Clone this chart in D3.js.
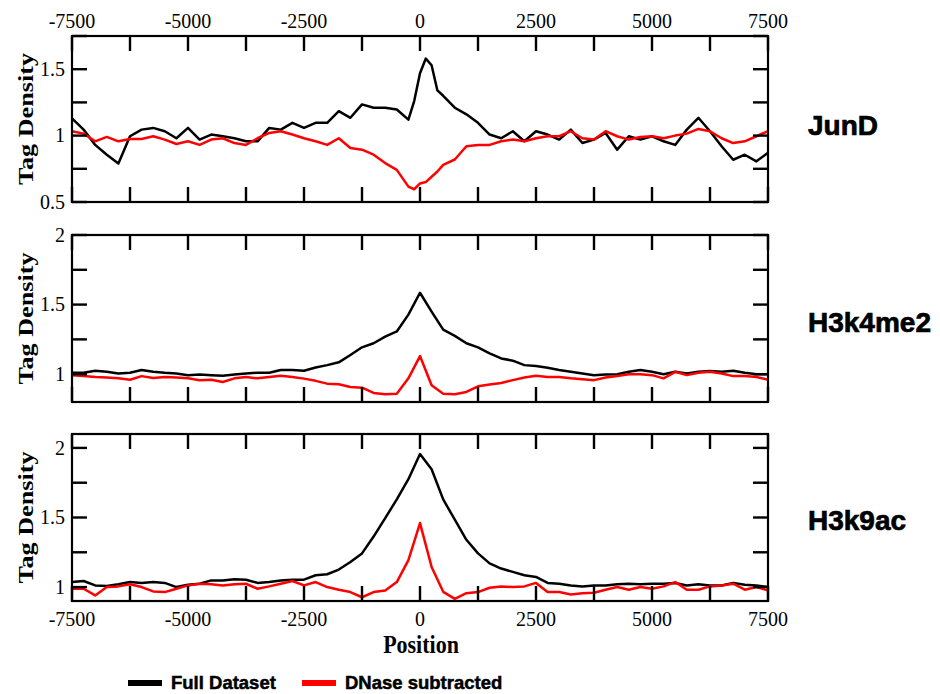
<!DOCTYPE html>
<html>
<head>
<meta charset="utf-8">
<script src="https://cdn.jsdelivr.net/npm/d3@7"></script>
<style>
  body { margin: 0; background: #fff; }
  svg { display: block; }
</style>
</head>
<body>
<svg id="chart" width="940" height="694"></svg>
<script>
// positions (bp) where the profiles were read
const positions = [-7500, -7250, -7000, -6750, -6500, -6250, -6000, -5750, -5500, -5250,
  -5000, -4750, -4500, -4250, -4000, -3750, -3500, -3250, -3000, -2750,
  -2500, -2250, -2000, -1750, -1500, -1250, -1000, -750, -500, -250,
  0, 250, 500, 750, 1000, 1250, 1500, 1750, 2000, 2250,
  2500, 2750, 3000, 3250, 3500, 3750, 4000, 4250, 4500, 4750,
  5000, 5250, 5500, 5750, 6000, 6250, 6500, 6750, 7000, 7250, 7500];

// JunD has a sharp peak, so a few extra points around 0
const junDPositions = [-7500, -7250, -7000, -6750, -6500, -6250, -6000, -5750, -5500, -5250,
  -5000, -4750, -4500, -4250, -4000, -3750, -3500, -3250, -3000, -2750,
  -2500, -2250, -2000, -1750, -1500, -1250, -1000, -750, -500, -250,
  -125, 0, 125, 250, 375, 500, 750, 1000, 1250, 1500, 1750, 2000, 2250,
  2500, 2750, 3000, 3250, 3500, 3750, 4000, 4250, 4500, 4750,
  5000, 5250, 5500, 5750, 6000, 6250, 6500, 6750, 7000, 7250, 7500];

const junDFull = [1.13, 1.045, 0.93, 0.856, 0.79, 0.995, 1.045, 1.058, 1.033, 0.98,
  1.058, 0.97, 1.008, 0.995, 0.98, 0.957, 0.957, 1.058, 1.045, 1.096,
  1.058, 1.096, 1.096, 1.184, 1.134, 1.235, 1.21, 1.21, 1.197, 1.12,
  1.26, 1.47, 1.58, 1.53, 1.34, 1.30, 1.21, 1.16, 1.096, 1.008, 0.98, 1.033, 0.957,
  1.033, 1.008, 0.97, 1.045, 0.944, 0.97, 1.02, 0.894, 0.995, 0.97,
  0.995, 0.957, 0.93, 1.045, 1.134, 1.033, 0.92, 0.818, 0.856, 0.806, 0.87];

const junDDnase = [1.033, 1.015, 0.957, 0.99, 0.957, 0.975, 0.975, 0.995, 0.97, 0.937,
  0.957, 0.93, 0.97, 0.98, 0.944, 0.93, 0.98, 1.02, 1.033, 1.008,
  0.98, 0.957, 0.93, 0.98, 0.907, 0.894, 0.856, 0.793, 0.742, 0.616,
  0.596, 0.64, 0.65, 0.69, 0.73, 0.78, 0.82, 0.92, 0.93, 0.93, 0.957, 0.97, 0.957,
  0.98, 0.995, 0.995, 1.033, 0.98, 0.97, 1.033, 0.995, 0.97, 0.99,
  0.995, 0.98, 1.0, 1.015, 1.05, 1.033, 0.98, 0.944, 0.957, 0.995, 1.033];

const h3k4me2Full = [1.01, 1.01, 1.025, 1.017, 1.005, 1.01, 1.03, 1.017, 1.01, 1.005,
  0.993, 0.998, 0.993, 0.988, 0.998, 1.005, 1.01, 1.01, 1.03, 1.03,
  1.025, 1.048, 1.065, 1.085, 1.138, 1.193, 1.222, 1.27, 1.307, 1.428,
  1.585, 1.45, 1.32, 1.275, 1.222, 1.193, 1.15, 1.113, 1.097, 1.065,
  1.058, 1.046, 1.03, 1.017, 1.005, 0.993, 0.998, 1.0, 1.017, 1.03,
  1.017, 1.0, 1.017, 1.005, 1.017, 1.022, 1.017, 1.025, 1.01, 1.0, 1.0];

const h3k4me2Dnase = [0.993, 0.986, 0.98, 0.976, 0.97, 0.96, 0.986, 0.973, 0.98, 0.976,
  0.97, 0.957, 0.96, 0.944, 0.97, 0.98, 0.97, 0.98, 0.988, 0.98,
  0.968, 0.952, 0.932, 0.928, 0.908, 0.903, 0.865, 0.855, 0.86, 0.97,
  1.13, 0.92, 0.86, 0.855, 0.872, 0.913, 0.925, 0.937, 0.957, 0.976,
  0.988, 0.98, 0.98, 0.97, 0.964, 0.957, 0.976, 0.986, 1.0, 1.0,
  0.993, 0.97, 1.017, 0.993, 1.01, 1.017, 1.005, 0.986, 0.986, 0.98, 0.96];

const h3k9acFull = [1.036, 1.044, 1.012, 1.007, 1.02, 1.036, 1.03, 1.036, 1.03, 1.0,
  1.017, 1.024, 1.048, 1.048, 1.056, 1.053, 1.03, 1.036, 1.048, 1.053,
  1.053, 1.085, 1.092, 1.126, 1.18, 1.242, 1.363, 1.496, 1.63, 1.775,
  1.956, 1.847, 1.63, 1.484, 1.34, 1.242, 1.17, 1.133, 1.109, 1.085,
  1.073, 1.03, 1.024, 1.012, 1.005, 1.012, 1.012, 1.02, 1.024, 1.02,
  1.024, 1.024, 1.03, 1.012, 1.02, 1.012, 1.012, 1.03, 1.017, 1.012, 1.0];

const h3k9acDnase = [0.988, 0.988, 0.94, 1.0, 1.005, 1.02, 1.0, 0.969, 0.964, 0.988,
  1.012, 1.024, 1.02, 1.012, 1.02, 1.024, 0.988, 1.005, 1.024, 1.044,
  1.012, 1.036, 1.0, 0.981, 0.964, 0.927, 0.964, 0.976, 1.036, 1.194,
  1.46, 1.145, 0.966, 0.915, 0.956, 0.964, 0.995, 1.005, 1.0, 1.005,
  1.03, 0.964, 0.964, 0.947, 0.956, 0.959, 0.981, 1.0, 0.981, 1.0,
  0.988, 1.005, 1.036, 0.981, 0.981, 1.005, 1.012, 1.024, 0.981, 1.0, 0.976];

const panelNames = ['JunD', 'H3k4me2', 'H3k9ac'];
const panelSeries = [
  [{ x: junDPositions, y: junDFull }, { x: junDPositions, y: junDDnase }],
  [{ x: positions, y: h3k4me2Full }, { x: positions, y: h3k4me2Dnase }],
  [{ x: positions, y: h3k9acFull }, { x: positions, y: h3k9acDnase }]
];
const yDomains = [[0.5, 1.75], [0.8, 2], [0.9, 2.1]];
const yTicks = [[0.5, 0.75, 1, 1.25, 1.5, 1.75], [1, 1.25, 1.5, 1.75, 2], [1, 1.25, 1.5, 1.75, 2]];
const yLabels = [[0.5, 1, 1.5], [1, 1.5, 2], [1, 1.5, 2]];
const xTicks = [-7500, -6250, -5000, -3750, -2500, -1250, 0, 1250, 2500, 3750, 5000, 6250, 7500];
const xLabels = [-7500, -5000, -2500, 0, 2500, 5000, 7500];
const seriesNames = ['Full Dataset', 'DNase subtracted'];
const seriesColors = ['#000000', '#ff0000'];

// layout
const plotLeft = 72, plotRight = 768;
const panelTops = [36, 235, 434];
const panelBottoms = [202, 402, 601];
const tickLen = 15, tickW = 2.4;
const serif = '"Liberation Serif", "Times New Roman", serif';
const sans = '"Liberation Sans", Arial, Helvetica, sans-serif';

const svg = d3.select('#chart');

const x = d3.scaleLinear().domain([-7500, 7500]).range([plotLeft, plotRight]);

const fmtX = d => xLabels.includes(d) ? String(d) : '';

panelNames.forEach((name, i) => {
  const y0 = panelTops[i], y1 = panelBottoms[i];
  const y = d3.scaleLinear().domain(yDomains[i]).range([y1, y0]);
  const g = svg.append('g');

  // profiles
  const line = d3.line().x(d => x(d[0])).y(d => y(d[1]));
  panelSeries[i].forEach((s, j) => {
    g.append('path')
      .datum(s.x.map((p, k) => [p, s.y[k]]))
      .attr('d', line)
      .attr('fill', 'none')
      .attr('stroke', seriesColors[j])
      .attr('stroke-width', 2.5)
      .attr('stroke-linejoin', 'round');
  });

  // tick marks, all pointing inward (small filled bars)
  const tk = g.append('g').attr('fill', '#000');
  tk.selectAll('rect.xtt').data(xTicks).join('rect').attr('class', 'xtt')
    .attr('x', d => x(d) - tickW / 2).attr('y', y0)
    .attr('width', tickW).attr('height', tickLen);
  tk.selectAll('rect.xtb').data(xTicks).join('rect').attr('class', 'xtb')
    .attr('x', d => x(d) - tickW / 2).attr('y', y1 - tickLen)
    .attr('width', tickW).attr('height', tickLen);
  tk.selectAll('rect.ytl').data(yTicks[i]).join('rect').attr('class', 'ytl')
    .attr('x', plotLeft).attr('y', d => y(d) - tickW / 2)
    .attr('width', tickLen).attr('height', tickW);
  tk.selectAll('rect.ytr').data(yTicks[i]).join('rect').attr('class', 'ytr')
    .attr('x', plotRight - tickLen).attr('y', d => y(d) - tickW / 2)
    .attr('width', tickLen).attr('height', tickW);

  // tick labels
  const lab = g.append('g').attr('font-family', serif).attr('font-size', 20).attr('fill', '#000');
  if (i === 0) {
    lab.selectAll('text.xl').data(xLabels).join('text')
      .attr('class', 'xl')
      .attr('x', d => x(d)).attr('y', y0 - 8)
      .attr('text-anchor', 'middle')
      .text(fmtX);
  }
  if (i === 2) {
    lab.selectAll('text.xl').data(xLabels).join('text')
      .attr('class', 'xl')
      .attr('x', d => x(d)).attr('y', y1 + 25)
      .attr('text-anchor', 'middle')
      .text(fmtX);
  }
  lab.selectAll('text.yl').data(yLabels[i]).join('text')
    .attr('class', 'yl')
    .attr('x', plotLeft - 7).attr('y', d => y(d)).attr('dy', '0.34em')
    .attr('text-anchor', 'end')
    .text(d => String(d));

  // frame
  g.append('rect')
    .attr('x', plotLeft).attr('y', y0)
    .attr('width', plotRight - plotLeft).attr('height', y1 - y0)
    .attr('fill', 'none').attr('stroke', '#000').attr('stroke-width', 2.2);

  // y title
  g.append('text')
    .attr('transform', `translate(33,${(y0 + y1) / 2}) rotate(-90)`)
    .attr('text-anchor', 'middle')
    .attr('font-family', serif).attr('font-weight', 'bold').attr('font-size', 20)
    .attr('textLength', 132).attr('lengthAdjust', 'spacingAndGlyphs')
    .text('Tag Density');

  // panel name on the right
  g.append('text')
    .attr('x', 808).attr('y', [135, 332, 530][i])
    .attr('font-family', sans).attr('font-weight', 'bold').attr('font-size', 28)
    .attr('stroke', '#000').attr('stroke-width', 0.7)
    .text(name);
});

// x title
svg.append('g')
  .attr('transform', 'translate(421,653) scale(1,1.1)')
  .append('text')
  .attr('text-anchor', 'middle')
  .attr('font-family', serif).attr('font-weight', 'bold').attr('font-size', 22)
  .text('Position');

// legend
const legendX = [128, 302];
seriesNames.forEach((n, j) => {
  const lg = svg.append('g').attr('transform', `translate(${legendX[j]},683)`);
  lg.append('line')
    .attr('x1', 0).attr('x2', 34)
    .attr('stroke', seriesColors[j]).attr('stroke-width', 6);
  lg.append('text')
    .attr('x', 43).attr('y', 6)
    .attr('font-family', sans).attr('font-weight', 'bold').attr('font-size', 18.5)
    .attr('stroke', '#000').attr('stroke-width', 0.5)
    .text(n);
});
</script>
</body>
</html>
